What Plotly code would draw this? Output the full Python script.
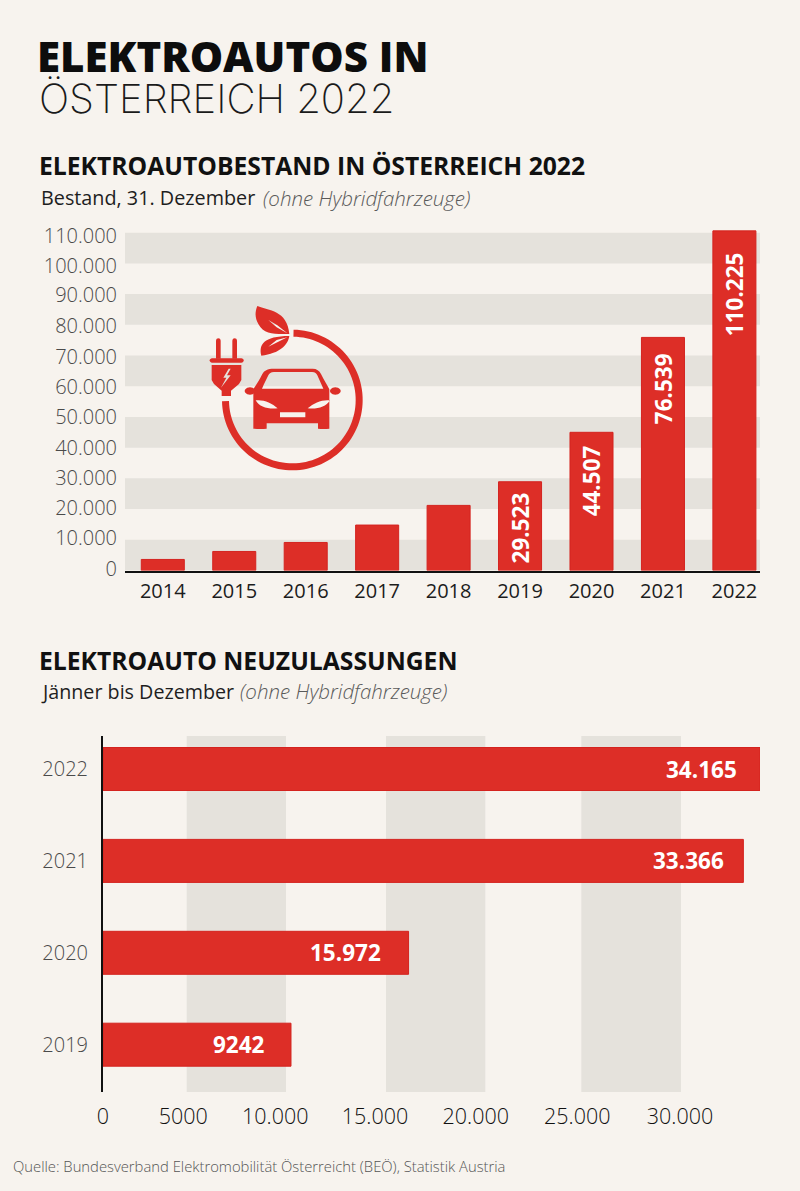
import math
import plotly.graph_objects as go

W, H = 800, 1191
BG = "#F7F3EE"
BAND = "#E5E2DC"
RED = "#DD2E27"
EDGE = "#D4231F"

# --- data: stock chart ---
stock_years = ["2014", "2015", "2016", "2017", "2018", "2019", "2020", "2021", "2022"]
stock_values = [3600, 6200, 9130, 14800, 21200, 28900, 45000, 75900, 110600]
stock_labelled_years = ["2019", "2020", "2021", "2022"]
stock_labels = ["29.523", "44.507", "76.539", "110.225"]
stock_label_centres = [13700, 29190, 59360, 90100]
stock_tick_positions = [390, 10480, 20260, 30220, 39990, 49990, 59850, 69600, 79500, 89600, 99250, 109020]
stock_ticktext = ["0", "10.000", "20.000", "30.000", "40.000", "50.000", "60.000", "70.000",
                  "80.000", "90.000", "100.000", "110.000"]
stock_bands = [(0, 10000), (20000, 30000), (40000, 50000), (60000, 70000), (80000, 90000), (100000, 110000)]

# --- data: registrations chart ---
reg_years = ["2019", "2020", "2021", "2022"]
reg_values = [9776, 15890, 33300, 34165]
reg_labels = ["9242", "15.972", "33.366", "34.165"]
reg_label_ends = [8450, 14530, 32370, 33020]
reg_tick_positions = [0, 4176, 8960, 14144, 19381, 24664, 30005]
reg_ticktext = ["0", "5000", "10.000", "15.000", "20.000", "25.000", "30.000"]
reg_bands = [(4353, 9516), (14717, 19880), (24873, 30057)]


def fx(px):
    return px / W


def fy(py):
    return 1 - py / H


BODY = "Open Sans"
LIGHT = 300

fig = go.Figure()
fig.add_trace(go.Bar(x=stock_years, y=stock_values, width=0.602, xaxis="x", yaxis="y",
                     marker=dict(color=RED, line=dict(color=EDGE, width=1)), hoverinfo="x+y"))
fig.add_trace(go.Bar(x=reg_values, y=reg_years, orientation="h", width=0.468, xaxis="x2", yaxis="y2",
                     marker=dict(color=RED, line=dict(color=EDGE, width=1)), hoverinfo="x+y"))

shapes = []
for a, b in stock_bands:
    shapes.append(dict(type="rect", xref="x domain", yref="y", x0=0, x1=1, y0=a, y1=b,
                       fillcolor=BAND, line_width=0, layer="below"))
for a, b in reg_bands:
    shapes.append(dict(type="rect", xref="x2", yref="y2 domain", x0=a, x1=b, y0=0, y1=1,
                       fillcolor=BAND, line_width=0, layer="below"))


# --- decorative icon, coordinates in a 3x local grid anchored at page (200, 300) ---
def P(x, y):
    return f"{fx(200 + x / 3):.5f},{fy(300 + y / 3):.5f}"


def poly(pts):
    return "M" + " L".join(P(*p) for p in pts) + " Z"


def curve(start, *segs):
    s = "M" + P(*start)
    for c1, c2, e in segs:
        s += f" C{P(*c1)} {P(*c2)} {P(*e)}"
    return s + " Z"


def ellipse(cx, cy, rx, ry):
    return poly([(cx + rx * math.cos(t / 24 * 2 * math.pi), cy + ry * math.sin(t / 24 * 2 * math.pi)) for t in range(24)])


def icon(path):
    shapes.append(dict(type="path", path=path, xref="paper", yref="paper",
                       fillcolor=RED, line_width=0, layer="above"))


# ring
cx, cy, ro, ri = 277, 300, 211, 190
angs = [math.radians(1 + i * (268 / 90)) for i in range(91)]
outer = [(cx + ro * math.sin(a), cy - ro * math.cos(a)) for a in angs]
inner = [(cx + ri * math.sin(a), cy - ri * math.cos(a)) for a in reversed(angs)]
icon(poly(outer + inner))

# plug prongs, flange, body with lightning hole
icon(curve((48, 122), ((48, 112), (62, 112), (62, 122)), ((62, 140), (62, 160), (62, 176)),
           ((57, 176), (53, 176), (48, 176)), ((48, 160), (48, 140), (48, 122))))
icon(curve((97, 122), ((97, 112), (111, 112), (111, 122)), ((111, 140), (111, 160), (111, 176)),
           ((106, 176), (102, 176), (97, 176)), ((97, 160), (97, 140), (97, 122))))
icon(curve((36, 175), ((33, 175), (29, 178), (29, 181)), ((29, 185), (33, 188), (36, 188)),
           ((70, 188), (90, 188), (124, 188)), ((128, 188), (131, 185), (131, 181)),
           ((131, 178), (128, 175), (124, 175)), ((90, 175), (70, 175), (36, 175))))
icon(poly([(35, 195), (124, 195), (124, 240), (117, 252), (93, 272), (93, 288), (65, 288), (65, 272),
           (42, 252), (35, 240)]) + " " +
     poly([(86, 206), (70, 233), (79, 233), (63, 263), (92, 226), (81, 226), (92, 206)]))

# car: body with windshield, headlights and plate as holes; mirrors
car = curve((222, 206),
            ((265, 206), (300, 206), (338, 206)),
            ((350, 206), (358, 212), (363, 222)),
            ((372, 240), (380, 252), (388, 268)),
            ((388, 300), (388, 340), (388, 360)),
            ((388, 368), (388, 382), (388, 386)),
            ((376, 387), (366, 387), (354, 386)),
            ((354, 382), (354, 374), (354, 370)),
            ((300, 370), (250, 370), (200, 370)),
            ((200, 374), (200, 382), (200, 386)),
            ((188, 387), (174, 387), (160, 386)),
            ((160, 382), (160, 368), (160, 360)),
            ((160, 340), (160, 300), (160, 268)),
            ((170, 252), (178, 240), (187, 222)),
            ((192, 212), (202, 206), (222, 206)))
wind = curve((222, 216),
             ((260, 216), (300, 216), (336, 216)),
             ((346, 216), (349, 220), (352, 226)),
             ((358, 240), (364, 252), (370, 266)),
             ((310, 266), (240, 266), (186, 266)),
             ((192, 252), (198, 240), (205, 226)),
             ((208, 220), (212, 216), (222, 216)))
lamp_l = curve((167, 301), ((190, 298), (215, 308), (233, 325)),
               ((205, 328), (178, 322), (167, 301)))
lamp_r = curve((390, 301), ((367, 298), (342, 308), (323, 325)),
               ((351, 328), (378, 322), (390, 301)))
plate = poly([(240, 337), (316, 337), (316, 352), (240, 352)])
icon(" ".join([car, wind, lamp_l, lamp_r, plate]))
icon(ellipse(150, 273, 16, 11))
icon(ellipse(406, 273, 16, 11))

# leaves with vein holes
leaf_top = curve((172, 18),
                 ((205, 32), (262, 30), (268, 102)),
                 ((225, 102), (192, 105), (175, 72)),
                 ((164, 52), (165, 35), (172, 18)))
vein_top = poly([(205, 60), (232, 76), (262, 100), (230, 82)])
leaf_low = curve((184, 167),
                 ((176, 135), (190, 108), (268, 108)),
                 ((264, 135), (240, 160), (184, 167)))
vein_low = poly([(205, 140), (230, 120), (262, 112), (232, 127)])
icon(leaf_top + " " + vein_top)
icon(leaf_low + " " + vein_low)

# --- texts ---
ann = []


def text(s, px, py, size, color, weight=400, style="normal", family=BODY, anchor="left"):
    ann.append(dict(text=s, xref="paper", yref="paper", x=fx(px), y=fy(py), xanchor=anchor, yanchor="middle",
                    showarrow=False, borderpad=0,
                    font=dict(family=family, size=size, color=color, weight=weight, style=style)))


HEAD = "Inter"
text("ELEKTROAUTOS IN", 36, 56, 42, "#0d0d0d", weight=800, family=BODY)
text("ÖSTERREICH 2022", 38, 99, 40, "#1a1a1a", weight=200, family=HEAD)
text("ELEKTROAUTOBESTAND IN ÖSTERREICH 2022", 38, 166, 24.7, "#111111", weight=700)
text("Bestand, 31. Dezember", 40, 198, 19.8, "#1e1e1e", weight=400)
text("(ohne Hybridfahrzeuge)", 262, 198, 20.5, "#5a5a5a", weight=300, style="italic")
text("ELEKTROAUTO NEUZULASSUNGEN", 38, 660, 24.7, "#111111", weight=700)
text("Jänner bis Dezember", 39.5, 691, 19.7, "#1e1e1e", weight=400)
text("(ohne Hybridfahrzeuge)", 238.5, 691, 20.5, "#5a5a5a", weight=300, style="italic")
text("Quelle: Bundesverband Elektromobilität Österreicht (BEÖ), Statistik Austria", 12, 1166, 14.8,
     "#555555", weight=300)

for yr, lab, c in zip(stock_labelled_years, stock_labels, stock_label_centres):
    ann.append(dict(text=lab, x=stock_years.index(yr), y=c, xref="x", yref="y", textangle=-90, showarrow=False,
                    xanchor="center", yanchor="middle", borderpad=0,
                    font=dict(family=BODY, size=22.5, color="white", weight=700)))
for yr, lab, e in zip(reg_years, reg_labels, reg_label_ends):
    ann.append(dict(text=lab, x=e, y=reg_years.index(yr), xref="x2", yref="y2", showarrow=False,
                    xanchor="right", yanchor="middle", borderpad=0,
                    font=dict(family=BODY, size=22.5, color="white", weight=700)))

# --- axes ---
y1_bottom, y1_top = 570.5, 225
px_per_unit_1 = (570.5 - 232.7) / 110000
step1, first1 = 71.45, 162.8
y2_top, y2_bottom = 736, 1092
step2, first2 = 91.9, 1044.7

fig.update_layout(
    width=W, height=H, autosize=False,
    margin=dict(l=0, r=0, t=0, b=0, autoexpand=False),
    paper_bgcolor=BG, plot_bgcolor="rgba(0,0,0,0)",
    showlegend=False, shapes=shapes, annotations=ann,
    font=dict(family=BODY),
    xaxis=dict(domain=[fx(125), fx(760)], anchor="y", type="category",
               categoryorder="array", categoryarray=stock_years,
               range=[(125 - first1) / step1, (760 - first1) / step1],
               showgrid=False, showline=True, linecolor="#111111", linewidth=2, ticks="", fixedrange=True,
               tickfont=dict(family=BODY, size=20, color="#1c1c1c"), ticklabelstandoff=1),
    yaxis=dict(domain=[fy(y1_bottom), fy(y1_top)], anchor="x",
               range=[0, (y1_bottom - y1_top) / px_per_unit_1],
               tickvals=stock_tick_positions, ticktext=stock_ticktext, showgrid=False, zeroline=False, ticks="",
               fixedrange=True, tickfont=dict(family=BODY, size=20, color="#4a4a4a", weight=LIGHT),
               ticklabelstandoff=7),
    xaxis2=dict(domain=[fx(103), fx(760)], anchor="y2", range=[0, 34165],
                tickvals=reg_tick_positions, ticktext=reg_ticktext, showgrid=False, zeroline=False, ticks="",
                fixedrange=True, tickfont=dict(family=BODY, size=21.5, color="#111111", weight=LIGHT),
                ticklabelstandoff=9),
    yaxis2=dict(domain=[fy(y2_bottom), fy(y2_top)], anchor="x2", type="category",
                categoryorder="array", categoryarray=reg_years,
                range=[-(y2_bottom - first2) / step2, (first2 - y2_top) / step2],
                showgrid=False, showline=True, linecolor="#111111", linewidth=2, ticks="", fixedrange=True,
                tickfont=dict(family=BODY, size=20, color="#4a4a4a", weight=LIGHT), ticklabelstandoff=9),
)

fig.write_html("out.html", config={"displayModeBar": False},
               post_script="document.body.style.margin='0';")
